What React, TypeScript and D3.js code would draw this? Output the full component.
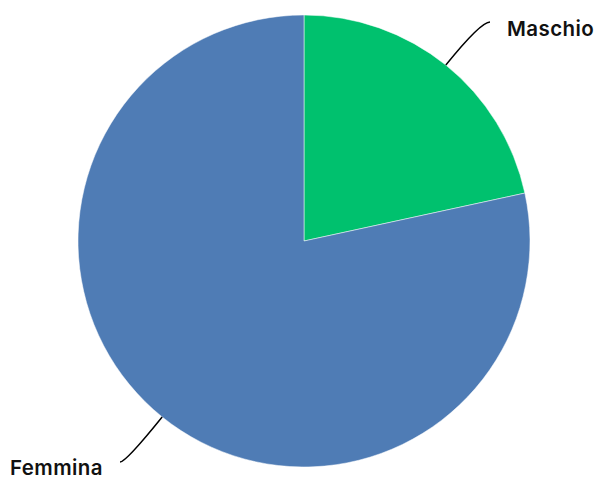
import React from "react";
import * as d3 from "d3";

const categories = ["Maschio", "Femmina"];
const values = [21.6, 78.4];
const colors = ["#00c16e", "#4f7cb5"];

const W = 601;
const H = 480;
const cx = 304;
const cy = 241;
const R = 226;

export default function App() {
  const pie = d3.pie<number>().sort(null).value((d) => d);
  const arcs = pie(values);
  const arcGen = d3.arc<d3.PieArcDatum<number>>().innerRadius(0).outerRadius(R);

  const labels = [
    { end: [490, 22], tx: 507, ty: 36 },
    { end: [120, 462], tx: 10, ty: 475 },
  ];

  return (
    <svg width={W} height={H} style={{ position: "absolute", left: 0, top: 0 }}>
      <g transform={`translate(${cx},${cy})`}>
        {arcs.map((a, i) => (
          <path key={i} d={arcGen(a) || ""} fill={colors[i]} stroke="#fff" strokeWidth={0.5} />
        ))}
      </g>
      {arcs.map((a, i) => {
        const mid = (a.startAngle + a.endAngle) / 2;
        const dx = Math.sin(mid);
        const dy = -Math.cos(mid);
        const sx = cx + R * dx;
        const sy = cy + R * dy;
        const [ex, ey] = labels[i].end;
        const t = (ey - sy) / dy;
        const qx = sx + dx * t;
        const p = d3.path();
        p.moveTo(sx, sy);
        p.quadraticCurveTo(qx, ey, ex, ey);
        return (
          <g key={i}>
            <path d={p.toString()} fill="none" stroke="#000" strokeWidth={1.5} />
            <text
              x={labels[i].tx}
              y={labels[i].ty}
              fontFamily="Inter, sans-serif"
              fontWeight={600}
              fontSize={20.5}
              letterSpacing={0.4}
              fill="#111"
            >
              {categories[i]}
            </text>
          </g>
        );
      })}
    </svg>
  );
}
